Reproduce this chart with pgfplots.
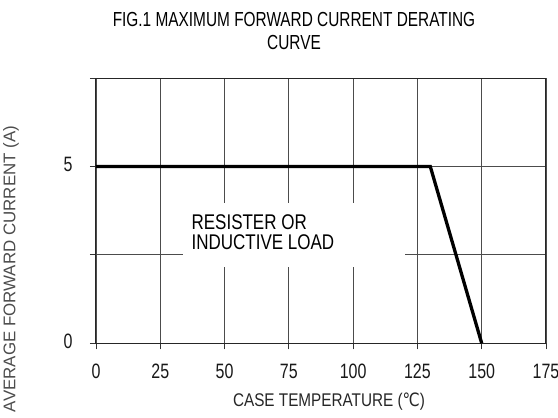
\documentclass[border=0pt]{standalone}
\usepackage{pgfplots}
\pgfplotsset{compat=1.18}
\usepackage{fontspec}
\setmainfont{Liberation Sans}
\newfontfamily\dejavu{DejaVu Sans}
\newcommand{\vs}[2][1.2]{\scalebox{1}[#1]{#2}}
\begin{document}
\begin{tikzpicture}
\begin{axis}[
  at={(0pt,0pt)}, anchor=south west,
  scale only axis, width=450pt, height=265.3pt,
  xmin=0, xmax=175, ymin=0, ymax=7.5,
  xtick={0,25,50,75,100,125,150,175},
  xticklabels={\vs[1.3]{0},\vs[1.3]{25},\vs[1.3]{50},\vs[1.3]{75},\vs[1.3]{100},\vs[1.3]{125},\vs[1.3]{150},\vs[1.3]{175}},
  ytick={0,2.5,5,7.5},
  yticklabels={\vs[1.3]{0},,\vs[1.3]{5},},
  xtick pos=bottom, ytick pos=left,
  grid=major,
  major grid style={black!70, line width=0.8pt},
  tick align=outside, major tick length=6pt,
  tick style={black!80, line width=0.8pt},
  axis line style={black!85, line width=1pt},
  ticklabel style={font=\fontsize{16}{16}\selectfont, text=black!90},
  xticklabel style={anchor=center, yshift=-22pt},
  yticklabel style={anchor=center, xshift=-22pt, yshift=1.5pt},
  title={\vs[1.32]{FIG.1 MAXIMUM FORWARD CURRENT DERATING}\\\vs[1.32]{CURVE}},
  title style={align=center, font=\fontsize{15.4}{23}\selectfont, at={(axis description cs:0.44,1.1527)}, anchor=center},
  xlabel={\vs[1.2]{CASE TEMPERATURE ({\dejavu ℃})}},
  xlabel style={font=\fontsize{15.3}{15}\selectfont, color=black!85, at={(axis description cs:0.5178,-0.2201)}, anchor=center},
  ylabel={AVERAGE FORWARD CURRENT (A)},
  ylabel style={font=\fontsize{16.9}{17}\selectfont, color=black!70, at={(axis description cs:-0.1889,0.2801)}, anchor=center},
  clip=false,
]
\fill[white] (axis cs:33.7,2.16) rectangle (axis cs:120,3.96);
\node[anchor=west, font=\fontsize{17}{17}\selectfont] at (axis cs:35.8,3.43) {\vs[1.25]{RESISTER OR}};
\node[anchor=west, font=\fontsize{17}{17}\selectfont] at (axis cs:35.8,2.87) {\vs[1.25]{INDUCTIVE LOAD}};
\addplot[black, line width=3.3pt, line join=miter] coordinates {(0,5) (130,5) (150,0)};
\end{axis}
\pgfresetboundingbox
\path[use as bounding box] (-96pt,-74.7pt) rectangle (462pt,343.3pt);
\end{tikzpicture}
\end{document}
